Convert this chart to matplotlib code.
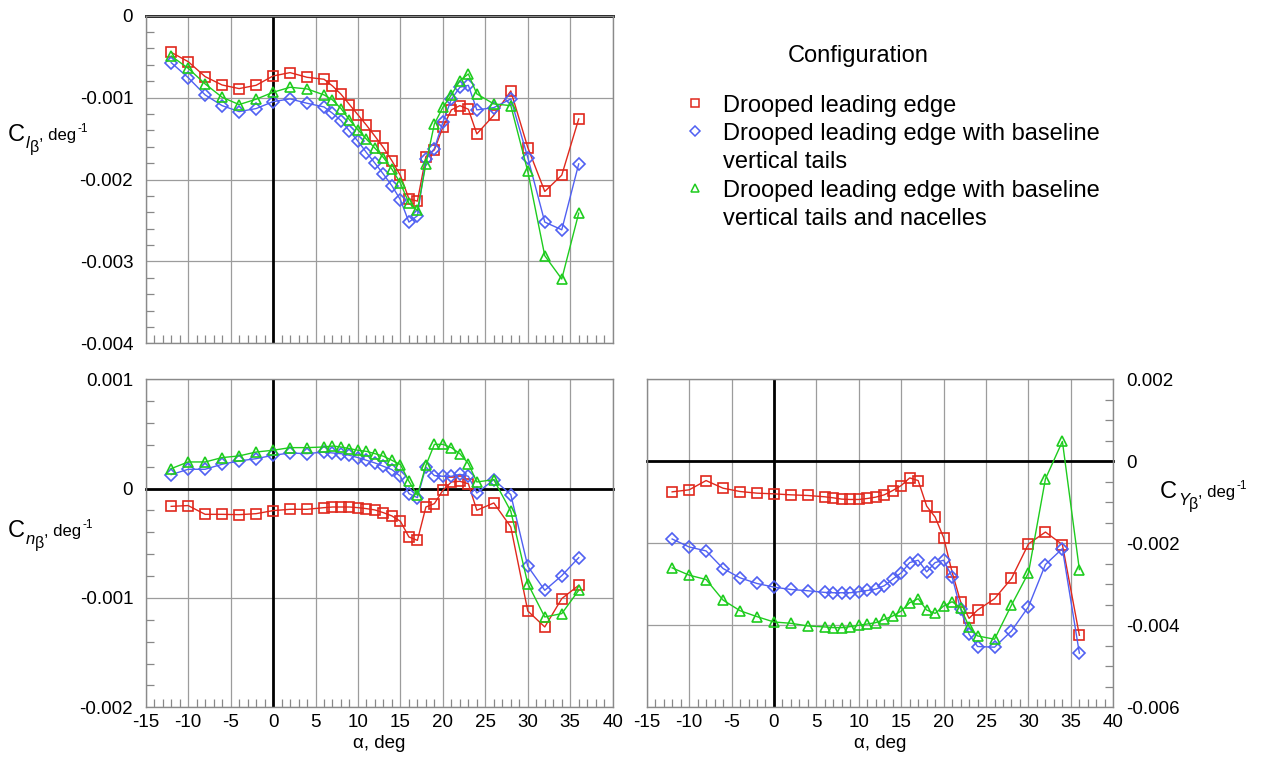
import numpy as np
import matplotlib
matplotlib.use("Agg")
from matplotlib import pyplot as plt
from matplotlib.ticker import MultipleLocator, FuncFormatter
from matplotlib.lines import Line2D

plt.rcParams['font.family'] = ['Liberation Sans', 'DejaVu Sans']

# angle of attack, deg
alpha = [-12, -10, -8, -6, -4, -2, 0, 2, 4, 6, 7, 8, 9, 10, 11, 12, 13, 14, 15,
         16, 17, 18, 19, 20, 21, 22, 23, 24, 26, 28, 30, 32, 34, 36]

labels = ["Drooped leading edge",
          "Drooped leading edge with baseline\nvertical tails",
          "Drooped leading edge with baseline\nvertical tails and nacelles"]

# values in units of 1e-3 per deg
cl_droop = [-0.447, -0.561, -0.744, -0.846, -0.890, -0.850, -0.736, -0.695, -0.752, -0.776,
            -0.858, -0.959, -1.085, -1.211, -1.337, -1.472, -1.610, -1.772, -1.951, -2.236,
            -2.264, -1.720, -1.638, -1.362, -1.150, -1.098, -1.142, -1.443, -1.215, -0.919,
            -1.610, -2.146, -1.947, -1.260]
cl_tails = [-0.573, -0.756, -0.967, -1.098, -1.171, -1.134, -1.049, -1.016, -1.069, -1.114,
            -1.191, -1.280, -1.407, -1.533, -1.671, -1.801, -1.935, -2.077, -2.248, -2.520,
            -2.443, -1.752, -1.622, -1.301, -1.020, -0.874, -0.850, -1.150, -1.122, -1.016,
            -1.732, -2.520, -2.614, -1.809]
cl_nac = [-0.492, -0.642, -0.833, -0.996, -1.085, -1.020, -0.935, -0.874, -0.894, -0.967,
          -1.028, -1.134, -1.272, -1.394, -1.508, -1.618, -1.732, -1.874, -2.045, -2.289,
          -2.378, -1.809, -1.321, -1.118, -0.967, -0.793, -0.711, -0.955, -1.077, -1.098,
          -1.902, -2.931, -3.215, -2.411]

cn_droop = [-0.162, -0.155, -0.235, -0.235, -0.238, -0.229, -0.201, -0.189, -0.189, -0.174,
            -0.168, -0.168, -0.168, -0.174, -0.183, -0.195, -0.220, -0.250, -0.299, -0.442,
            -0.473, -0.168, -0.137, -0.015, 0.061, 0.067, 0.045, -0.198, -0.131, -0.351,
            -1.119, -1.265, -1.006, -0.884]
cn_tails = [0.128, 0.177, 0.177, 0.223, 0.253, 0.274, 0.305, 0.326, 0.320, 0.335,
            0.326, 0.320, 0.305, 0.284, 0.259, 0.235, 0.204, 0.174, 0.113, -0.046,
            -0.082, 0.198, 0.119, 0.113, 0.113, 0.131, 0.113, -0.040, 0.082, -0.055,
            -0.710, -0.930, -0.796, -0.631]
cn_nac = [0.183, 0.244, 0.244, 0.284, 0.299, 0.335, 0.351, 0.375, 0.375, 0.381,
          0.390, 0.381, 0.366, 0.351, 0.341, 0.320, 0.296, 0.259, 0.220, 0.067,
          -0.061, 0.213, 0.405, 0.405, 0.375, 0.320, 0.229, 0.061, 0.082, -0.207,
          -0.869, -1.174, -1.143, -0.930]

cy_droop = [-0.745, -0.696, -0.470, -0.656, -0.737, -0.777, -0.794, -0.818, -0.834, -0.866,
            -0.891, -0.923, -0.931, -0.931, -0.907, -0.874, -0.818, -0.713, -0.591, -0.405,
            -0.470, -1.093, -1.360, -1.862, -2.704, -3.425, -3.830, -3.628, -3.352, -2.858,
            -2.016, -1.725, -2.032, -4.243]
cy_tails = [-1.895, -2.089, -2.186, -2.615, -2.842, -2.980, -3.069, -3.126, -3.158, -3.198,
            -3.206, -3.206, -3.206, -3.182, -3.150, -3.117, -3.036, -2.874, -2.721, -2.470,
            -2.413, -2.696, -2.470, -2.413, -2.818, -3.611, -4.219, -4.518, -4.534, -4.138,
            -3.547, -2.518, -2.130, -4.680]
cy_nac = [-2.599, -2.777, -2.883, -3.385, -3.644, -3.789, -3.919, -3.951, -4.016, -4.040,
          -4.057, -4.057, -4.032, -4.000, -3.968, -3.935, -3.854, -3.773, -3.652, -3.449,
          -3.352, -3.628, -3.709, -3.530, -3.425, -3.571, -4.032, -4.259, -4.340, -3.506,
          -2.721, -0.429, 0.486, -2.640]

colors = ['#e0281c', '#5060f2', '#1ecc1e']
markers = ['s', 'D', '^']
msizes = [6.8, 6.2, 7.8]

W, H = 1269, 760
def fx(x):
    return x / W
def fy(y):
    return 1 - y / H

fig = plt.figure(figsize=(W / 100, H / 100), dpi=100)
ax1 = fig.add_axes([fx(145.7), fy(343.3), 467 / W, 327.6 / H])
ax2 = fig.add_axes([fx(145.7), fy(707.3), 467 / W, 328 / H])
ax3 = fig.add_axes([fx(646.7), fy(707.3), 466.6 / W, 328 / H])


def fmt(v, pos):
    if abs(v) < 1e-9:
        return "0"
    return "%g" % v


def style(ax, ylo, yhi, ymaj, ymin, right=False, xlabels=True):
    ax.set_xlim(-15, 40)
    ax.set_ylim(ylo, yhi)
    ax.xaxis.set_major_locator(MultipleLocator(5))
    ax.xaxis.set_minor_locator(MultipleLocator(1))
    ax.yaxis.set_major_locator(MultipleLocator(ymaj))
    ax.yaxis.set_minor_locator(MultipleLocator(ymin))
    ax.xaxis.set_major_formatter(FuncFormatter(fmt))
    ax.yaxis.set_major_formatter(FuncFormatter(fmt))
    ax.grid(True, which='major', color='#9c9c9c', lw=0.9, zorder=1)
    ax.set_axisbelow(True)
    ax.axhline(0, color='k', lw=2.0, zorder=2, clip_on=False)
    ax.axvline(0, color='k', lw=2.0, zorder=2)
    ax.tick_params(which='both', direction='in', top=False, bottom=True,
                   left=not right, right=right, labelleft=not right, labelright=right,
                   labelbottom=xlabels, labelsize=13.5, color='#888888')
    ax.tick_params(axis='y', pad=9)
    ax.tick_params(axis='x', pad=5)
    ax.tick_params(which='major', length=0)
    ax.tick_params(which='minor', length=6, width=0.9)
    for s in ax.spines.values():
        s.set_color('#8a8a8a')
        s.set_linewidth(1.0)


style(ax1, -0.004, 0.0, 0.001, 0.0002, xlabels=False)
style(ax2, -0.002, 0.001, 0.001, 0.0002)
style(ax3, -0.006, 0.002, 0.002, 0.0005, right=True)

a = np.array(alpha)
for ax, series in [(ax1, [cl_droop, cl_tails, cl_nac]),
                   (ax2, [cn_droop, cn_tails, cn_nac]),
                   (ax3, [cy_droop, cy_tails, cy_nac])]:
    for vals, c, m, ms in zip(series, colors, markers, msizes):
        ax.plot(a, np.array(vals) * 1e-3, color=c, lw=1.0, marker=m, ms=ms,
                mfc='none', mec=c, mew=1.2, zorder=3)

ax2.set_xlabel("α, deg", fontsize=13.5, labelpad=3)
ax3.set_xlabel("α, deg", fontsize=13.5, labelpad=3)

# y axis labels built from pieces: C, subscript letter, beta, ", deg", -1
renderer = fig.canvas.get_renderer()


def coef_label(x0, b, sub):
    t = fig.text(fx(x0), fy(b), "C", fontsize=17, va='baseline')
    x = t.get_window_extent(renderer).x1
    t = fig.text(fx(x + 1), fy(b + 7), sub, fontsize=12, style='italic', va='baseline')
    x = t.get_window_extent(renderer).x1
    t = fig.text(fx(x), fy(b + 11), "β", fontsize=11.5, va='baseline')
    x = t.get_window_extent(renderer).x1
    t = fig.text(fx(x), fy(b - 1), ", deg", fontsize=12, va='baseline')
    x = t.get_window_extent(renderer).x1
    fig.text(fx(x + 1), fy(b - 9), "-1", fontsize=8.5, va='baseline')


coef_label(8, 141, "l")
coef_label(8, 537, "n")
coef_label(1160, 498, "Y")

# legend
fig.text(fx(858), fy(62), "Configuration", fontsize=17, ha='center', va='baseline')
rows = [105, 133.3, 161.7, 190, 218.3]
r = 0
for i, lab in enumerate(labels):
    fig.add_artist(Line2D([fx(695)], [fy(rows[r] - 2)], transform=fig.transFigure,
                          marker=markers[i], ms=msizes[i] * 0.8, mfc='none',
                          mec=colors[i], mew=1.1, ls='none'))
    for p in lab.split("\n"):
        fig.text(fx(723), fy(rows[r] + 6.7), p, fontsize=17, va='baseline')
        r += 1

fig.savefig("out.png", dpi=100)
